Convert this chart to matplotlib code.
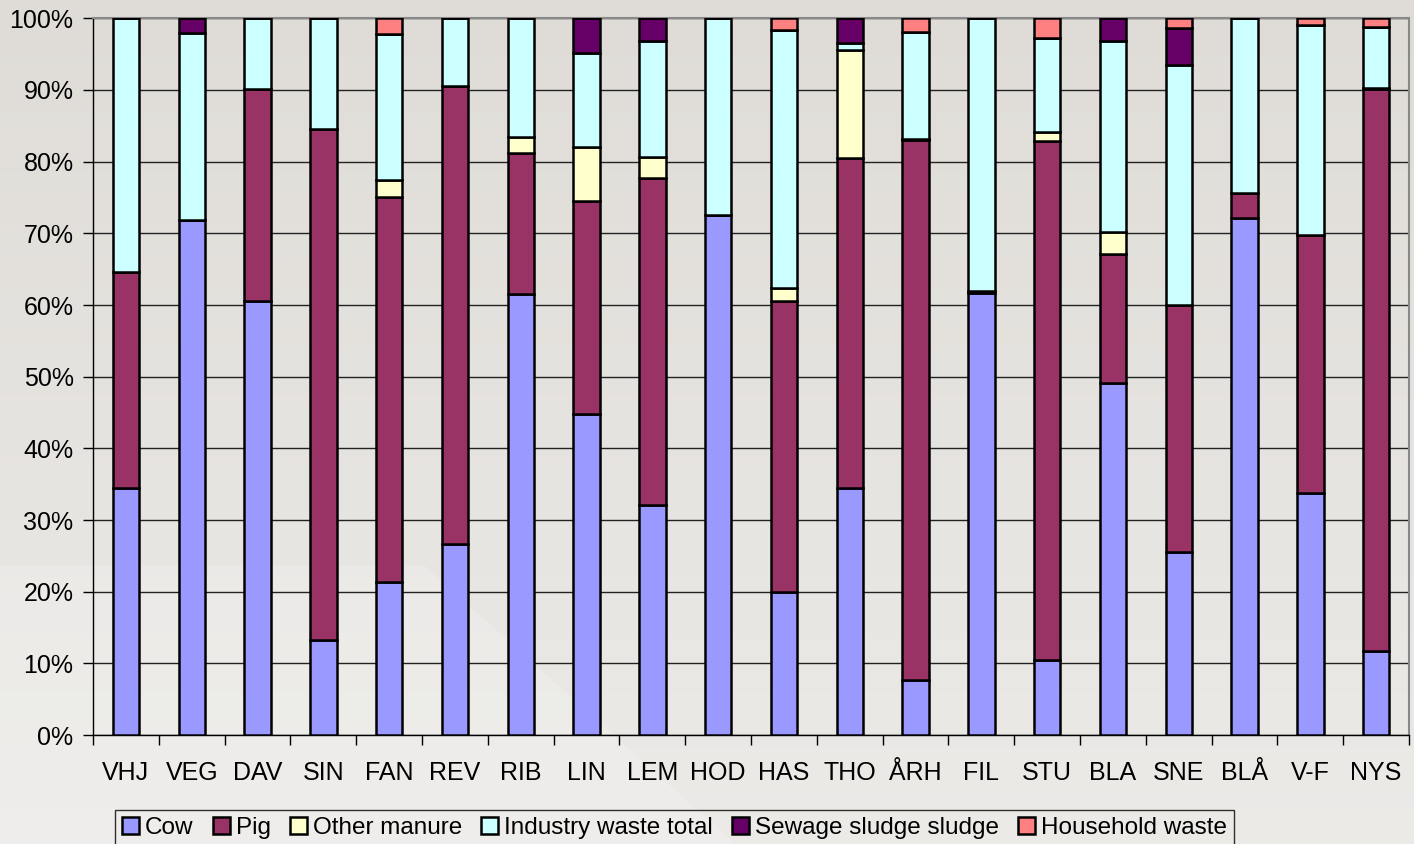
import matplotlib
matplotlib.use("Agg")
import matplotlib.pyplot as plt
import numpy as np
from matplotlib.ticker import FixedLocator, PercentFormatter

plt.rcParams['font.family'] = ['Liberation Sans', 'DejaVu Sans']

plants = ["VHJ", "VEG", "DAV", "SIN", "FAN", "REV", "RIB", "LIN", "LEM", "HOD",
          "HAS", "THO", "ÅRH", "FIL", "STU", "BLA", "SNE", "BLÅ", "V-F", "NYS"]

# shares in percent
cow = [34.5, 71.8, 60.6, 13.2, 21.3, 26.7, 61.5, 44.8, 32.1, 72.6,
       20.0, 34.4, 7.7, 61.7, 10.5, 49.1, 25.5, 72.2, 33.8, 11.7]
pig = [30.1, 0.0, 29.5, 71.4, 53.7, 63.8, 19.7, 29.7, 45.6, 0.0,
       40.6, 46.1, 75.3, 0.3, 72.4, 18.0, 34.5, 3.4, 35.9, 78.4]
other_manure = [0.0, 0.0, 0.0, 0.0, 2.5, 0.0, 2.2, 7.6, 2.9, 0.0,
                1.8, 15.1, 0.2, 0.0, 1.2, 3.1, 0.0, 0.0, 0.0, 0.2]
industry = [35.4, 26.1, 9.9, 15.4, 20.3, 9.5, 16.6, 13.1, 16.3, 27.4,
            36.0, 1.0, 14.9, 38.0, 13.1, 26.7, 33.5, 24.4, 29.3, 8.5]
sewage = [0.0, 2.1, 0.0, 0.0, 0.0, 0.0, 0.0, 4.8, 3.1, 0.0,
          0.0, 3.4, 0.0, 0.0, 0.0, 3.1, 5.2, 0.0, 0.0, 0.0]
household = [0.0, 0.0, 0.0, 0.0, 2.2, 0.0, 0.0, 0.0, 0.0, 0.0,
             1.6, 0.0, 1.9, 0.0, 2.8, 0.0, 1.3, 0.0, 1.0, 1.2]

series = [("Cow", cow, "#9999FF"),
          ("Pig", pig, "#993366"),
          ("Other manure", other_manure, "#FFFFCC"),
          ("Industry waste total", industry, "#CCFFFF"),
          ("Sewage sludge sludge", sewage, "#660066"),
          ("Household waste", household, "#FF8080")]

fig = plt.figure(figsize=(14.14, 8.44), dpi=100)

# light grey backdrop with a soft vertical gradient
bg = fig.add_axes([0, 0, 1, 1], zorder=-10)
grad = np.linspace(0, 1, 256).reshape(-1, 1)
top = np.array([0.875, 0.863, 0.843])
bot = np.array([0.925, 0.920, 0.910])
img = top + (bot - top) * grad[..., None]
bg.imshow(img, aspect="auto", extent=[0, 1, 0, 1], origin="upper")
bg.fill([0.0, 0.30, 0.52, 0.0], [0.33, 0.33, 0.0, 0.0], color="white", alpha=0.18, lw=0)
bg.set_xlim(0, 1)
bg.set_ylim(0, 1)
bg.axis("off")

ax = fig.add_axes([0.0658, 0.1291, 0.9307, 0.8492])
ax.patch.set_alpha(0)

x = np.arange(len(plants))
bottom = np.zeros(len(plants))
for name, vals, color in series:
    vals = np.array(vals)
    ax.bar(x, vals, 0.4, bottom=bottom, color=color, edgecolor="black",
           linewidth=1.8, label=name, zorder=3)
    bottom += vals

ax.set_xlim(-0.5, len(plants) - 0.5)
ax.set_ylim(0, 100)
ax.set_yticks(np.arange(0, 101, 10))
ax.yaxis.set_major_formatter(PercentFormatter(decimals=0))
ax.grid(axis="y", color="#222222", linewidth=1.0, zorder=1)

ax.set_xticks(x)
ax.set_xticklabels(plants)
ax.xaxis.set_minor_locator(FixedLocator(np.arange(-0.5, len(plants), 1.0)))
ax.tick_params(axis="x", which="major", length=0, pad=19, labelsize=18)
ax.tick_params(axis="x", which="minor", length=7, width=1, direction="out", color="black")
ax.tick_params(axis="y", length=7, width=1, direction="out", pad=7, labelsize=18)

for side in ["left", "bottom"]:
    ax.spines[side].set_color("black")
    ax.spines[side].set_linewidth(1)
for side in ["top", "right"]:
    ax.spines[side].set_color("#888888")
    ax.spines[side].set_linewidth(1.5)

leg = fig.legend(loc="lower center", bbox_to_anchor=(0.477, -0.003), ncol=6,
                 fontsize=17.5, frameon=True, fancybox=False, edgecolor="black",
                 facecolor="none", handlelength=0.7, handleheight=0.7,
                 handletextpad=0.25, columnspacing=0.78, borderpad=0.3,
                 borderaxespad=0)
leg.get_frame().set_linewidth(1)

fig.savefig("out.png", dpi=100)
